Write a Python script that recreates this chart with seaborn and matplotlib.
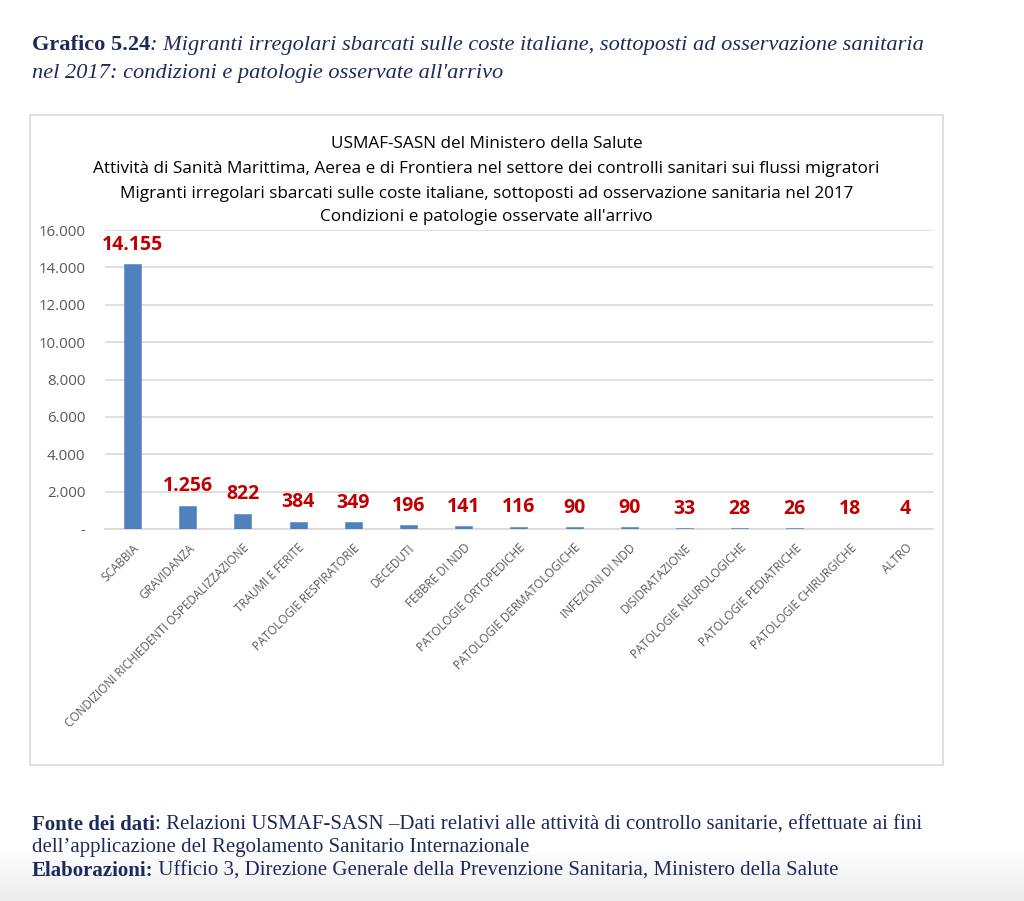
import numpy as np
import pandas as pd
import matplotlib
matplotlib.use("Agg")
import matplotlib.pyplot as plt
import seaborn as sns
from matplotlib.patches import Rectangle
from matplotlib.ticker import FuncFormatter

categorie = ["SCABBIA", "GRAVIDANZA", "CONDIZIONI RICHIEDENTI OSPEDALIZZAZIONE",
             "TRAUMI E FERITE", "PATOLOGIE RESPIRATORIE", "DECEDUTI", "FEBBRE DI NDD",
             "PATOLOGIE ORTOPEDICHE", "PATOLOGIE DERMATOLOGICHE", "INFEZIONI DI NDD",
             "DISIDRATAZIONE", "PATOLOGIE NEUROLOGICHE", "PATOLOGIE PEDIATRICHE",
             "PATOLOGIE CHIRURGICHE", "ALTRO"]
valori = [14155, 1256, 822, 384, 349, 196, 141, 116, 90, 90, 33, 28, 26, 18, 4]

titolo_grafico = ["USMAF-SASN del Ministero della Salute",
                  "Attività di Sanità Marittima, Aerea e di Frontiera nel settore dei controlli sanitari sui flussi migratori",
                  "Migranti irregolari sbarcati sulle coste italiane, sottoposti ad osservazione sanitaria nel 2017",
                  "Condizioni e patologie osservate all'arrivo"]

df = pd.DataFrame({"categoria": categorie, "valore": valori})

sns.set_style("white")
plt.rcParams['font.family'] = ['Open Sans', 'DejaVu Sans']

navy = "#1F2A5C"
fig = plt.figure(figsize=(10.24, 9.01), dpi=100)

# leggera sfumatura grigia in fondo alla pagina
bg = fig.add_axes([0, 0, 1, 0.06], zorder=-5)
bg.imshow(np.linspace(0, 1, 50).reshape(-1, 1), cmap=matplotlib.colors.LinearSegmentedColormap.from_list(
    "g", ["#FFFFFF", "#ECECEC"]), aspect="auto", origin="upper", extent=(0, 1, 0, 1))
bg.axis("off")

# riquadro del grafico
fig.patches.append(Rectangle((0.0293, 0.151), 0.8916, 0.7214, transform=fig.transFigure,
                             facecolor="none", edgecolor="#D9D9D9", lw=1.2, zorder=-1))

ax = fig.add_axes([0.1025, 0.4129, 0.8085, 0.3318])
ax.set_facecolor("none")
sns.barplot(data=df, x="categoria", y="valore", color="#4F81BD", width=0.31, saturation=1,
            edgecolor="#6B96CC", linewidth=0.6, ax=ax, zorder=3)

ax.set_ylim(0, 16000)
ax.set_xlim(-0.5, len(categorie) - 0.5)
ax.set_yticks(np.arange(0, 16001, 2000))
ax.yaxis.set_major_formatter(FuncFormatter(
    lambda v, p: "-" if v == 0 else f"{int(v):,}".replace(",", ".")))
ax.grid(axis="y", color="#D9D9D9", lw=1.2, zorder=0)
for s in ["top", "right", "left"]:
    ax.spines[s].set_visible(False)
ax.spines["bottom"].set_color("#D9D9D9")
ax.spines["bottom"].set_linewidth(1.2)
ax.tick_params(axis="y", length=0, labelsize=10.8, labelcolor="#595959", pad=14)
ax.tick_params(axis="x", length=0, labelsize=8.5, labelcolor="#595959", pad=9)
ax.set_xlabel("")
ax.set_ylabel("")
plt.setp(ax.get_xticklabels(), rotation=45, ha="right", rotation_mode="anchor")

for i, v in enumerate(valori):
    ax.annotate(f"{v:,}".replace(",", "."), (i, v), xytext=(0, 7), textcoords="offset points",
                ha="center", va="bottom", color="#C00000", fontsize=14, fontweight="bold")

# titolo interno
ys = [0.840, 0.812, 0.785, 0.759]
for t, y in zip(titolo_grafico, ys):
    fig.text(0.475, y, t, ha="center", va="center", fontsize=12.3, color="black")

# intestazione e note in stile serif
serif = ['Liberation Serif', 'DejaVu Serif']
renderer = fig.canvas.get_renderer()


def riga(x, y, parti, size):
    for testo, peso, stile in parti:
        t = fig.text(x, y, testo, fontsize=size, color=navy, family=serif,
                     fontweight=peso, fontstyle=stile, va="baseline")
        bb = t.get_window_extent(renderer=renderer)
        x = bb.x1 / fig.bbox.width


riga(0.031, 0.944, [("Grafico 5.24", "bold", "normal"),
                    (": Migranti irregolari sbarcati sulle coste italiane, sottoposti ad osservazione sanitaria",
                     "normal", "italic")], 16.1)
riga(0.031, 0.913, [("nel 2017: condizioni e patologie osservate all'arrivo", "normal", "italic")], 16.1)

riga(0.031, 0.079, [("Fonte dei dati", "bold", "normal"),
                    (": Relazioni USMAF-SASN –Dati relativi alle attività di controllo sanitarie, effettuate ai fini",
                     "normal", "normal")], 15)
riga(0.031, 0.054, [("dell’applicazione del Regolamento Sanitario Internazionale", "normal", "normal")], 15)
riga(0.031, 0.028, [("Elaborazioni:", "bold", "normal"),
                    (" Ufficio 3, Direzione Generale della Prevenzione Sanitaria, Ministero della Salute",
                     "normal", "normal")], 15)

fig.savefig("out.png", dpi=100)
